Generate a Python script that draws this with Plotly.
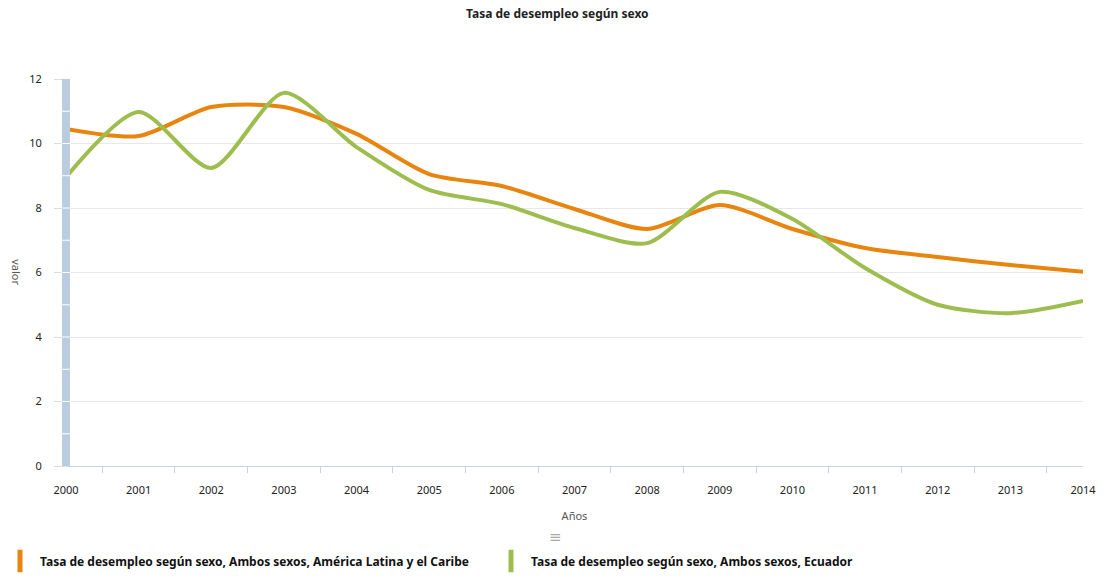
import plotly.graph_objects as go

years = ["2000", "2001", "2002", "2003", "2004", "2005", "2006", "2007",
         "2008", "2009", "2010", "2011", "2012", "2013", "2014"]
lac = [10.45, 10.23, 11.13, 11.13, 10.3, 9.05, 8.68, 7.97, 7.35, 8.09, 7.35, 6.76, 6.48, 6.23, 6.02]
ecu = [8.96, 10.98, 9.24, 11.57, 9.89, 8.56, 8.12, 7.38, 6.91, 8.5, 7.66, 6.14, 5.0, 4.74, 5.12]
y_ticks = [0, 2, 4, 6, 8, 10, 12]

name_lac = "Tasa de desempleo según sexo, Ambos sexos, América Latina y el Caribe"
name_ecu = "Tasa de desempleo según sexo, Ambos sexos, Ecuador"
c_lac = "#E8850F"
c_ecu = "#9DBE4E"

fig = go.Figure()
fig.add_trace(go.Scatter(x=years, y=lac, mode="lines", name=name_lac,
                         line=dict(color=c_lac, width=4, shape="spline", smoothing=0.75),
                         showlegend=False))
fig.add_trace(go.Scatter(x=years, y=ecu, mode="lines", name=name_ecu,
                         line=dict(color=c_ecu, width=4, shape="spline", smoothing=0.75),
                         showlegend=False))
# legend entries (bar-shaped symbols)
for nm, c in [(name_lac, c_lac), (name_ecu, c_ecu)]:
    fig.add_trace(go.Scatter(x=[None], y=[None], mode="markers", name=nm,
                             marker=dict(symbol="line-ns", size=18,
                                         line=dict(color=c, width=8))))

# vertical band at the left edge of the plot
bw = 4 / 1024
shapes = [dict(type="rect", xref="paper", yref="y",
               x0=-bw, x1=bw, y0=0, y1=12, fillcolor="#BACCDF", line=dict(width=0),
               layer="above")]
for k in range(1, 12):
    shapes.append(dict(type="line", xref="paper", yref="y",
                       x0=-bw, x1=bw, y0=k, y1=k, line=dict(color="white", width=1),
                       layer="above"))

fig.update_layout(
    width=1108, height=578,
    margin=dict(l=66, r=18, t=79, b=112),
    paper_bgcolor="white", plot_bgcolor="white",
    font=dict(family="Noto Sans", size=11, color="#333333"),
    title=dict(text="<b>Tasa de desempleo según sexo</b>", x=0.503, xanchor="center",
               y=1 - 14 / 578, yanchor="middle",
               font=dict(family="Noto Sans", size=12, color="#222222")),
    xaxis=dict(range=[0, 14], showgrid=False, showline=True, linecolor="#C8D4E0",
               linewidth=1, ticks="outside", tickson="boundaries", ticklen=6,
               tickcolor="#C8D4E0", ticklabelstandoff=14,
               tickfont=dict(size=11, color="#222222"),
               title=dict(text="Años", font=dict(size=11, color="#555555"), standoff=16),
               zeroline=False),
    yaxis=dict(range=[0, 12], tickvals=y_ticks, showgrid=True, gridcolor="#E8E8E8",
               gridwidth=1, ticks="outside", ticklen=11, tickcolor="#DDDDDD",
               ticklabelstandoff=10, tickfont=dict(size=11, color="#222222"),
               showline=False, zeroline=False),
    shapes=shapes,
    showlegend=True,
    legend=dict(orientation="h", xref="container", yref="container",
                x=0.0, y=1 - 561 / 578, xanchor="left", yanchor="middle",
                font=dict(family="Noto Sans", size=12, color="#111111", weight="bold"),
                entrywidth=446, entrywidthmode="pixels", itemwidth=30,
                bgcolor="rgba(0,0,0,0)"),
    annotations=[
        dict(text="valor", xref="paper", yref="paper", x=-50 / 1024, y=0.5,
             textangle=90, showarrow=False, xanchor="center", yanchor="middle",
             font=dict(size=11, color="#555555")),
        dict(text="≡", xref="paper", yref="paper", x=(559 - 66) / 1024,
             y=-(537 - 466) / 387, showarrow=False, xanchor="center", yanchor="middle",
             font=dict(family="DejaVu Sans", size=15, color="#AAAAAA")),
    ],
)

fig.write_html("out.html")
